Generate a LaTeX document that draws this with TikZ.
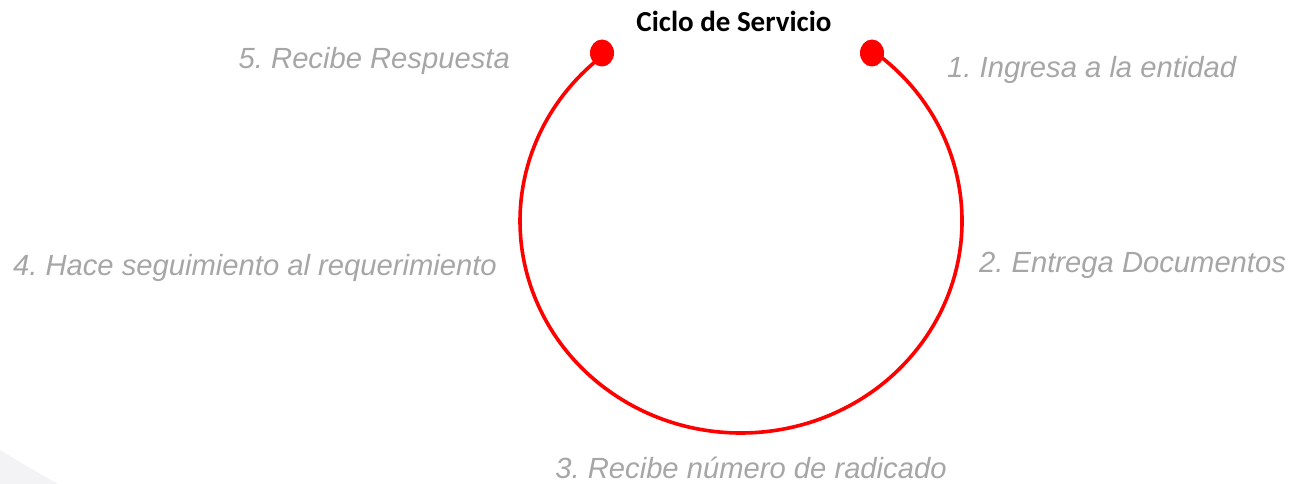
\documentclass[tikz,border=0pt]{standalone}
\usepackage{fontspec}
\setmainfont{Liberation Sans}
\newfontfamily\titlefont{Carlito}
\usetikzlibrary{shapes.geometric}
\definecolor{labgray}{HTML}{A6A6A6}
\definecolor{faint}{HTML}{F3F3F5}
\frenchspacing
\begin{document}
\begin{tikzpicture}[x=1pt,y=1pt,
  lab/.style={text=labgray, font=\fontsize{29.2}{32}\selectfont\itshape, inner sep=0pt},
  ttl/.style={text=black, font=\titlefont\bfseries\fontsize{29}{32}\selectfont, inner sep=0pt},
  dot/.style={ellipse, fill=red, draw=none, minimum width=24pt, minimum height=27pt, inner sep=0pt},
  ring/.style={draw=red, line width=3.6pt}]
\useasboundingbox (0,0) rectangle (1295,484);
% faint watermark shape
\fill[faint] (0,34) .. controls (20,22) and (40,10) .. (58,0) -- (0,0) -- cycle;
% ring
\coordinate (a1) at (877.07,430.06);
\draw[ring] (a1) arc[start angle=52, end angle=-232, x radius=221, y radius=212];
\node[dot] (d1) at (872,431) {};
\node[dot] (d5) at (602,431) {};
% title and labels
\node[ttl] (title) at (734,463) {Ciclo de Servicio};
\node[lab, anchor=east] (s5) at (510,423) {5. Recibe Respuesta};
\node[lab, anchor=west] (s1) at (947,414) {1. Ingresa a la entidad};
\node[lab, anchor=west] (s2) at (979,219) {2. Entrega Documentos};
\node[lab, anchor=east] (s4) at (497,216) {4. Hace seguimiento al requerimiento};
\node[lab] (s3) at (751,16) {3. Recibe número de radicado};
\end{tikzpicture}
\end{document}
